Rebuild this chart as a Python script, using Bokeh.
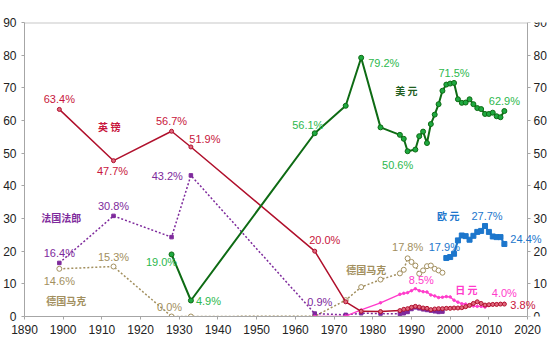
from bokeh.plotting import figure
from bokeh.models import Range1d, LinearAxis, Label, FixedTicker
from bokeh.embed import file_html
from bokeh.resources import INLINE

# ---------------- data ----------------
gbp_years = [1899, 1913, 1928, 1933, 1965, 1973, 1977, 1982, 1987, 1988, 1989, 1990, 1991, 1992,
             1993, 1994, 1995, 1996, 1997, 1998, 1999, 2000, 2001, 2002, 2003, 2004, 2005, 2006,
             2007, 2008, 2009, 2010, 2011, 2012, 2013, 2014]
gbp_share = [63.4, 47.7, 56.7, 51.9, 20.0, 4.5, 1.6, 1.5, 1.8, 2.2, 2.4, 2.8, 3.1, 2.9,
             2.6, 2.5, 2.1, 2.3, 2.4, 2.4, 2.5, 2.5, 2.6, 2.6, 2.7, 3.0, 3.4, 4.0,
             4.5, 4.0, 3.5, 3.6, 3.7, 3.7, 3.8, 3.8]

usd_years = [1928, 1933, 1965, 1973, 1977, 1982, 1987, 1988, 1989, 1991, 1992, 1993, 1994,
             1995, 1996, 1997, 1998, 1999, 2000, 2001, 2002, 2003, 2004, 2005, 2006, 2007,
             2008, 2009, 2010, 2011, 2012, 2013, 2014]
usd_share = [19.0, 4.9, 56.1, 64.5, 79.2, 57.9, 55.6, 54.4, 50.6, 51.1, 55.2, 56.6, 53.1,
             58.9, 61.8, 65.0, 69.1, 71.0, 71.3, 71.5, 66.5, 65.4, 65.5, 66.5, 65.0, 63.8,
             63.5, 62.0, 62.0, 62.4, 61.3, 61.0, 62.9]

frf_years = [1899, 1913, 1928, 1933, 1965, 1973, 1977, 1982, 1987, 1988, 1989, 1990, 1991,
             1992, 1993, 1994, 1995, 1996, 1997, 1998]
frf_share = [16.4, 30.8, 24.3, 43.2, 0.9, 0.5, 1.0, 0.9, 0.8, 1.0, 1.4, 2.3, 2.8,
             2.5, 2.2, 2.0, 1.8, 1.6, 1.4, 1.5]

dem_years = [1899, 1913, 1928, 1933, 1965, 1973, 1977, 1982, 1987, 1988, 1989, 1990, 1991,
             1992, 1993, 1994, 1995, 1996, 1997, 1998]
dem_share = [14.6, 15.3, 0.0, 0.0, 0.1, 5.0, 9.0, 11.3, 13.2, 14.3, 17.8, 16.7, 15.6,
             13.1, 14.1, 15.4, 15.6, 14.6, 14.1, 13.4]

jpy_years = [1965, 1973, 1977, 1982, 1987, 1988, 1989, 1990, 1991, 1992, 1993, 1994, 1995,
             1996, 1997, 1998, 1999, 2000, 2001, 2002, 2003, 2004, 2005, 2006, 2007, 2008,
             2009, 2010, 2011, 2012, 2013, 2014]
jpy_share = [0.0, 0.1, 2.0, 4.2, 6.8, 7.1, 7.3, 7.9, 8.5, 7.9, 7.6, 7.5, 6.6,
             6.3, 5.8, 5.9, 6.1, 6.0, 5.0, 4.4, 3.9, 3.8, 3.5, 3.2, 3.1, 3.1,
             2.9, 3.4, 3.6, 3.8, 3.8, 4.0]

eur_years = [1999, 2000, 2001, 2002, 2003, 2004, 2005, 2006, 2007, 2008, 2009, 2010, 2011,
             2012, 2013, 2014]
eur_share = [17.9, 18.2, 19.2, 23.3, 24.8, 24.6, 23.5, 24.7, 25.9, 26.2, 27.7, 25.9, 24.5,
             24.3, 24.3, 22.2]

x_ticks = [1890, 1900, 1910, 1920, 1930, 1940, 1950, 1960, 1970, 1980, 1990, 2000, 2010, 2020]
y_ticks = [0, 10, 20, 30, 40, 50, 60, 70, 80, 90]

title_text = "全球储备货币比重分布"

# ---------------- colours / fonts ----------------
C_GBP_LINE, C_GBP_TXT = "#B0102C", "#C8163C"
C_USD_LINE, C_USD_MK, C_USD_TXT, C_USD_NAME = "#0E6B14", "#1EA940", "#2DB84D", "#1F5E1F"
C_FRF = "#7E2A9C"
C_DEM = "#A28F5E"
C_JPY = "#FF3CCB"
C_EUR = "#1C76CC"
C_AXIS = "#A6A6A6"
NUM_FONT = "Liberation Sans"
CJK_FONT = "Noto Sans CJK SC"

# layout: plot area spans 1890..2020 over 505 px; the frame is extended to the right
# page edge so that end-of-line labels are not cut off, and the right axis sits at 2020.
X0, X1 = x_ticks[0], x_ticks[-1]
PX_PER_YEAR = 505 / (X1 - X0)
X_END = X1 + 23 / PX_PER_YEAR

p = figure(width=550, height=337, output_backend="svg", toolbar_location=None,
           x_range=Range1d(X0, X_END), y_range=Range1d(y_ticks[0], y_ticks[-1]),
           min_border_left=22, min_border_right=0, min_border_top=22, min_border_bottom=21)
p.background_fill_color = "white"
p.border_fill_color = "white"
p.outline_line_color = None
p.xgrid.visible = False
p.ygrid.visible = False

# axes
for ax in (p.xaxis[0], p.yaxis[0]):
    ax.axis_line_color = C_AXIS
    ax.major_tick_line_color = C_AXIS
    ax.minor_tick_line_color = None
    ax.major_tick_in = 0
    ax.major_tick_out = 3
    ax.major_label_text_font = NUM_FONT
    ax.major_label_text_font_size = "12px"
    ax.major_label_text_color = "#222222"
p.xaxis.ticker = FixedTicker(ticks=x_ticks)
p.xaxis.bounds = (X0, X1)
p.xaxis.major_label_standoff = 5
p.yaxis.ticker = FixedTicker(ticks=y_ticks)
p.yaxis.major_label_standoff = 5

ry = LinearAxis(ticker=FixedTicker(ticks=y_ticks), fixed_location=X1)
ry.axis_line_color = C_AXIS
ry.major_tick_line_color = C_AXIS
ry.minor_tick_line_color = None
ry.major_tick_in = 0
ry.major_tick_out = 3
ry.major_label_standoff = 3
ry.major_label_text_font = NUM_FONT
ry.major_label_text_font_size = "12px"
ry.major_label_text_color = "#222222"
p.add_layout(ry, "right")

# top border of the plot area
p.segment(x0=[X0], y0=[y_ticks[-1]], x1=[X1], y1=[y_ticks[-1]], line_color="#C8C8C8", line_width=2)

# ---------------- series ----------------
# German mark
p.line(dem_years, dem_share, line_color=C_DEM, line_width=1.5, line_dash="2 2")
p.scatter(dem_years, dem_share, marker="circle", size=5, fill_color="white", line_color=C_DEM, line_width=1)
# French franc
p.line(frf_years, frf_share, line_color=C_FRF, line_width=1.5, line_dash="2 2")
p.scatter(frf_years, frf_share, marker="square", size=3.5, fill_color=C_FRF, line_color=C_FRF)
# Yen
p.line(jpy_years, jpy_share, line_color=C_JPY, line_width=1.3)
p.scatter(jpy_years, jpy_share, marker="circle", size=2.5, fill_color=C_JPY, line_color=C_JPY)
# Pound
p.line(gbp_years, gbp_share, line_color=C_GBP_LINE, line_width=1.5)
p.scatter(gbp_years, gbp_share, marker="circle", size=4, fill_color="#E06A80", line_color=C_GBP_LINE, line_width=1)
# Euro
p.line(eur_years, eur_share, line_color=C_EUR, line_width=2)
p.scatter(eur_years, eur_share, marker="square", size=5, fill_color=C_EUR, line_color=C_EUR)
# US dollar
p.line(usd_years, usd_share, line_color=C_USD_LINE, line_width=2)
p.scatter(usd_years, usd_share, marker="circle", size=5, fill_color=C_USD_MK, line_color=C_USD_LINE, line_width=1)


# ---------------- labels ----------------
def num_label(years, vals, idx, color, dx=0, dy=0, align="center", text=None):
    v = vals[idx]
    p.add_layout(Label(x=years[idx], y=v, text=text if text else f"{v:.1f}%",
                       x_offset=dx, y_offset=-dy, level="overlay",
                       text_color=color, text_font=NUM_FONT, text_font_size="11px",
                       text_align=align, text_baseline="middle"))


def name_label(x, y, text, color):
    p.add_layout(Label(x=x, y=y, text=text, text_color=color, text_font=CJK_FONT,
                       text_font_size="10px", text_font_style="bold", level="overlay",
                       text_align="center", text_baseline="middle"))


# pound
num_label(gbp_years, gbp_share, 0, C_GBP_TXT, 0, -10)
num_label(gbp_years, gbp_share, 1, C_GBP_TXT, -1, 10)
num_label(gbp_years, gbp_share, 2, C_GBP_TXT, 0, -10)
num_label(gbp_years, gbp_share, 3, C_GBP_TXT, 14, -8)
num_label(gbp_years, gbp_share, 4, C_GBP_TXT, 10, -11)
num_label(gbp_years, gbp_share, len(gbp_share) - 1, C_GBP_TXT, 6, 1, "left")
# franc
num_label(frf_years, frf_share, 0, C_FRF, 0, -10)
num_label(frf_years, frf_share, 1, C_FRF, 0, -10)
num_label(frf_years, frf_share, 3, C_FRF, -8, 1, "right")
num_label(frf_years, frf_share, 4, C_FRF, 5, -12)
# mark
num_label(dem_years, dem_share, 0, C_DEM, 0, 12)
num_label(dem_years, dem_share, 1, C_DEM, 0, -10)
num_label(dem_years, dem_share, 2, C_DEM, -2, -10)
num_label(dem_years, dem_share, 10, C_DEM, 0, -11)
# dollar
num_label(usd_years, usd_share, 0, C_USD_TXT, -10, 8)
num_label(usd_years, usd_share, 1, C_USD_TXT, 5, 1, "left")
num_label(usd_years, usd_share, 2, C_USD_TXT, -7, -8)
num_label(usd_years, usd_share, 4, C_USD_TXT, 7, 5, "left")
num_label(usd_years, usd_share, 8, C_USD_TXT, -10, 14)
num_label(usd_years, usd_share, 19, C_USD_TXT, 0, -10)
num_label(usd_years, usd_share, len(usd_share) - 1, C_USD_TXT, 0, -10)
# euro
num_label(eur_years, eur_share, 0, C_EUR, -2, -11)
num_label(eur_years, eur_share, 10, C_EUR, 2, -10)
num_label(eur_years, eur_share, len(eur_share) - 1, C_EUR, 6, -5, "left", text="24.4%")
# yen
num_label(jpy_years, jpy_share, 8, C_JPY, 6, -9)
num_label(jpy_years, jpy_share, len(jpy_share) - 1, C_JPY, 0, -10)

# series names
name_label(1911.9, 58.2, "英 镑", C_GBP_TXT)
name_label(1899.5, 30.4, "法国法郎", C_FRF)
name_label(1900.8, 5.0, "德国马克", C_DEM)
name_label(1978.3, 14.4, "德国马克", C_DEM)
name_label(1988.7, 69.2, "美 元", C_USD_NAME)
name_label(1999.5, 30.8, "欧 元", C_EUR)
name_label(2004.2, 8.3, "日 元", C_JPY)

# titles / units
for lx, txt, font, fs in ((1885.4, "%", NUM_FONT, "12px"), (2022.0, "%", NUM_FONT, "12px"),
                          (1890.8, title_text, CJK_FONT, "10px")):
    p.add_layout(Label(x=lx, y=93.4, text=txt, text_font=font, text_font_size=fs, level="overlay",
                       text_color="#222222", text_align="left", text_baseline="middle"))

open("out.html", "w").write(file_html(p, INLINE))
